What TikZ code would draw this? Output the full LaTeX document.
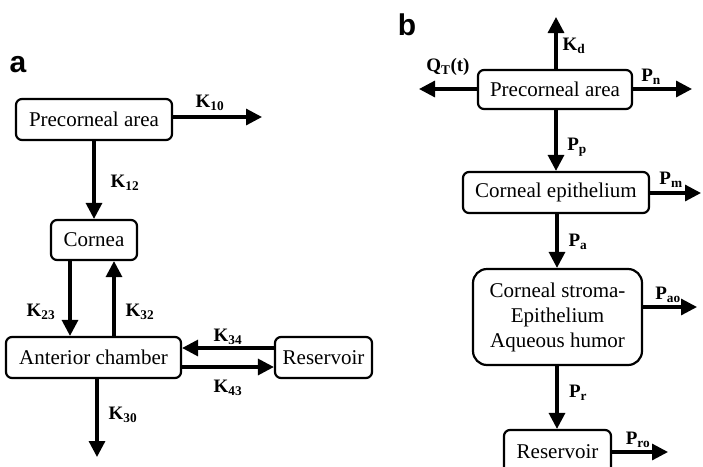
\documentclass[tikz,border=0pt]{standalone}
\usepackage{fontspec}
\setmainfont{Liberation Serif}
\newfontfamily\panelfont{Liberation Sans}
\usetikzlibrary{arrows.meta}
\begin{document}
\begin{tikzpicture}[x=1pt,y=-1pt,
  box/.style={draw,line width=2.2pt,rounded corners=6pt,inner sep=0pt,
    font=\fontsize{21}{25}\selectfont,align=center},
  flow/.style={line width=3.2pt,-{Triangle[length=16pt,width=16pt]}},
  rate/.style={font=\bfseries\fontsize{19}{21}\selectfont,inner sep=0pt},
  panel/.style={font=\panelfont\bfseries\fontsize{30}{32}\selectfont,inner sep=0pt}]
\useasboundingbox (0,0) rectangle (703,466);
\clip (0,0) rectangle (703,466);

% ---------- panel a ----------
\node[panel] (la) at (18,65) {a};
\node[box,minimum width=156pt,minimum height=41pt] (pa) at (94,119.5) {Precorneal area};
\node[box,minimum width=86pt,minimum height=40pt] (co) at (94,240) {Cornea};
\node[box,minimum width=175pt,minimum height=41pt] (ac) at (93.5,357.5) {Anterior chamber};
\node[box,minimum width=97pt,minimum height=41pt] (ra) at (323.5,357.5) {Reservoir};

\coordinate (k10end) at (262,117);
\coordinate (k30end) at (97,457);

\draw[flow] (pa.east |- k10end) -- (k10end);
\draw[flow] (pa.south) -- (co.north);
\draw[flow] (co.south -| 70,0) -- (ac.north -| 70,0);
\draw[flow] (ac.north -| 114,0) -- (co.south -| 114,0);
\draw[flow] (ra.west |- 0,348) -- (ac.east |- 0,348);
\draw[flow] (ac.east |- 0,367) -- (ra.west |- 0,367);
\draw[flow] (ac.south -| k30end) -- (k30end);

\node[rate] (k10) at (210,103) {K\textsubscript{10}};
\node[rate] (k12) at (125,183) {K\textsubscript{12}};
\node[rate] (k23) at (41,312) {K\textsubscript{23}};
\node[rate] (k32) at (140,312) {K\textsubscript{32}};
\node[rate] (k34) at (228,337) {K\textsubscript{34}};
\node[rate] (k43) at (228,388) {K\textsubscript{43}};
\node[rate] (k30) at (123,415) {K\textsubscript{30}};

% ---------- panel b ----------
\node[panel] (lb) at (407,25) {b};
\node[box,minimum width=154pt,minimum height=39pt] (pb) at (555,89.5) {Precorneal area};
\node[box,minimum width=186pt,minimum height=41pt] (ce) at (556,192.5) {Corneal epithelium};
\node[box,rounded corners=14pt,minimum width=169pt,minimum height=96pt] (cs) at (557.5,317)
  {Corneal stroma-\\Epithelium\\Aqueous humor};
\node[box,minimum width=107pt,minimum height=44pt] (rb) at (557.5,452) {Reservoir};

\coordinate (kdend) at (556,17);
\coordinate (qend) at (419,89);
\coordinate (pnend) at (692,89);
\coordinate (pmend) at (701,193);
\coordinate (paoend) at (697,307);
\coordinate (proend) at (668,452);

\draw[flow] (pb.north -| kdend) -- (kdend);
\draw[flow] (pb.west |- qend) -- (qend);
\draw[flow] (pb.east |- pnend) -- (pnend);
\draw[flow] (pb.south -| 556,0) -- (ce.north -| 556,0);
\draw[flow] (ce.east |- pmend) -- (pmend);
\draw[flow] (ce.south -| 557,0) -- (cs.north -| 557,0);
\draw[flow] (cs.east |- paoend) -- (paoend);
\draw[flow] (cs.south -| 557,0) -- (rb.north -| 557,0);
\draw[flow] (rb.east |- proend) -- (proend);

\node[rate] (kd) at (574,46) {K\textsubscript{d}};
\node[rate] (qt) at (448,67) {Q\textsubscript{T}(t)};
\node[rate] (pn) at (651,77) {P\textsubscript{n}};
\node[rate] (pp) at (577,147) {P\textsubscript{p}};
\node[rate] (pm) at (671,180) {P\textsubscript{m}};
\node[rate] (pa2) at (578,242) {P\textsubscript{a}};
\node[rate] (pao) at (668,295) {P\textsubscript{ao}};
\node[rate] (pr) at (578,393) {P\textsubscript{r}};
\node[rate] (pro) at (638,440) {P\textsubscript{ro}};
\end{tikzpicture}
\end{document}
